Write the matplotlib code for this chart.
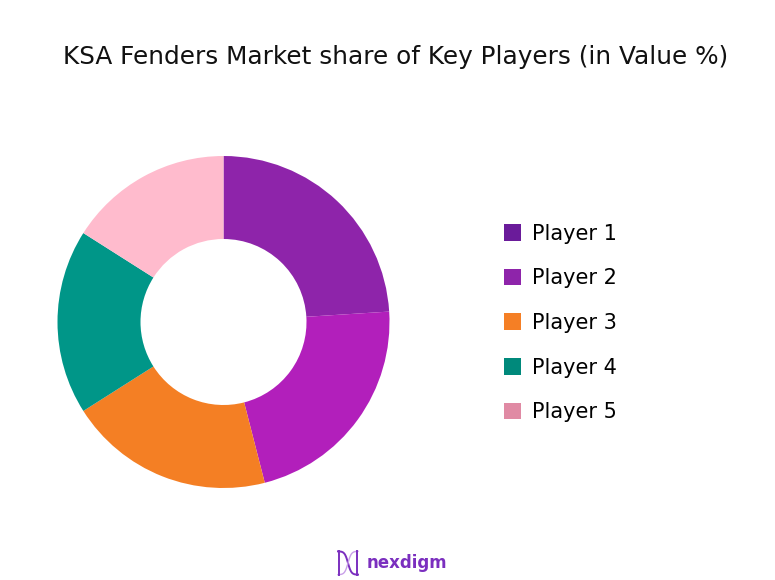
import numpy as np
import matplotlib.pyplot as plt
from matplotlib.patches import Patch

players = ["Player 1", "Player 2", "Player 3", "Player 4", "Player 5"]
shares = [24, 22, 20, 18, 16]
slice_colors = ["#8E24AA", "#B21FBB", "#F47F24", "#009688", "#FFBBCD"]
legend_colors = ["#6A1B9A", "#8E24AA", "#F57F25", "#00897B", "#E08AA4"]

plt.rcParams["font.family"] = ["DejaVu Sans"]

W, H = 775, 580
fig = plt.figure(figsize=(W / 100, H / 100), dpi=100)

# donut: centre (223.5, 322) px, outer radius 166 px
cx, cy, r = 223.5, 322, 166
ax = fig.add_axes([(cx - r) / W, (H - cy - r) / H, 2 * r / W, 2 * r / H])
ax.pie(shares, colors=slice_colors, startangle=90, counterclock=False,
       radius=1.0, wedgeprops=dict(width=0.5, edgecolor="none"))
ax.set_xlim(-1, 1)
ax.set_ylim(-1, 1)
ax.set_aspect("equal")
ax.axis("off")

fig.text(396 / W, 1 - 57 / H, "KSA Fenders Market share of Key Players (in Value %)",
         ha="center", va="center", fontsize=17.8, color="#111111")

handles = [Patch(facecolor=c, edgecolor="none") for c in legend_colors]
fig.legend(handles, players, loc="upper left", bbox_to_anchor=(485 / W, 1 - 205 / H),
           frameon=False, fontsize=15, handlelength=0.85, handleheight=0.85,
           handletextpad=0.5, labelspacing=1.18)

# logo
lx = fig.add_axes([336 / W, 1 - 576 / H, 24 / W, 26 / H])
t = np.linspace(0, 1, 50)
lx.plot(t, 0.5 - 0.45 * np.tanh(6 * (t - 0.5)), color="#7B2FBF", lw=1.4)
lx.plot(t, 0.5 + 0.45 * np.tanh(6 * (t - 0.5)), color="#C9A0E8", lw=1.0)
lx.plot([0.05, 0.05], [0.05, 0.95], color="#7B2FBF", lw=1.4)
lx.plot([0.95, 0.95], [0.05, 0.95], color="#7B2FBF", lw=1.4)
lx.set_xlim(-0.1, 1.1)
lx.set_ylim(0, 1)
lx.axis("off")
fig.text(367 / W, 1 - 563 / H, "nexdigm", ha="left", va="center",
         fontsize=12, fontweight="semibold", color="#7B2FBF")

fig.savefig("out.png", dpi=100)
